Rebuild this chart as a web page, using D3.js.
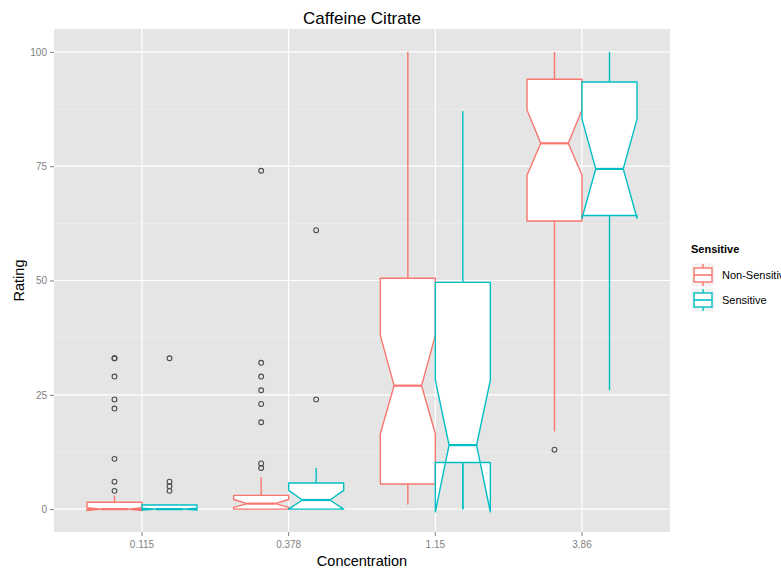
<!DOCTYPE html>
<html>
<head>
<meta charset="utf-8">
<script src="https://cdnjs.cloudflare.com/ajax/libs/d3/7.8.5/d3.min.js"></script>
<style>
  body { margin: 0; background: #fff; }
  text { font-family: "Liberation Sans", Arial, sans-serif; }
</style>
</head>
<body>
<div id="chart"></div>
<script>
// categories and groups
var concentrations = ['0.115', '0.378', '1.15', '3.86'];
var groups = ['Non-Sensitive', 'Sensitive'];
var yTicks = [0, 25, 50, 75, 100];
var yMinor = [12.5, 37.5, 62.5, 87.5];

// Non-Sensitive box stats
var nsLower = [0, 0, 1, 17];
var nsQ1 = [0, 0, 5.5, 63];
var nsMedian = [0, 1.2, 27, 80];
var nsQ3 = [1.5, 3, 50.5, 94];
var nsUpper = [3, 7, 100, 100];
var nsNotchLo = [-0.3, 0.4, 16.5, 73];
var nsNotchHi = [0.3, 2.1, 38, 87.3];
var nsOutliers = [[33, 33, 29, 24, 22, 11, 6, 4], [74, 32, 29, 26, 23, 19, 10, 9], [], [13]];

// Sensitive box stats
var sLower = [0, 0, 0, 26];
var sQ1 = [0, 0, 10.2, 64.2];
var sMedian = [0, 2, 14, 74.4];
var sQ3 = [0.9, 5.7, 49.6, 93.4];
var sUpper = [0.9, 9, 87, 100];
var sNotchLo = [-0.2, 0, -0.6, 63.6];
var sNotchHi = [0.2, 4.1, 28.2, 85.3];
var sOutliers = [[33, 6, 5, 4], [61, 24], [], []];

var colors = ['#F8766D', '#00BFC4'];

var width = 781, height = 569;
var margin = { left: 54, right: 111, top: 29, bottom: 37 };

var svg = d3.select('#chart')
  .append('svg')
  .attr('width', width)
  .attr('height', height);

var x = d3.scaleBand()
  .domain(concentrations)
  .range([margin.left, width - margin.right])
  .paddingInner(0)
  .paddingOuter(0.1);

var xSub = d3.scaleBand()
  .domain(groups)
  .range([0, x.bandwidth() * 0.75]);

var y = d3.scaleLinear()
  .domain([-5, 105])
  .range([height - margin.bottom, margin.top]);

// build table of boxes
var boxes = [];
concentrations.forEach(function (c, i) {
  boxes.push({ c: c, g: groups[0], lower: nsLower[i], q1: nsQ1[i], med: nsMedian[i], q3: nsQ3[i],
    upper: nsUpper[i], nlo: nsNotchLo[i], nhi: nsNotchHi[i], out: nsOutliers[i], color: colors[0] });
  boxes.push({ c: c, g: groups[1], lower: sLower[i], q1: sQ1[i], med: sMedian[i], q3: sQ3[i],
    upper: sUpper[i], nlo: sNotchLo[i], nhi: sNotchHi[i], out: sOutliers[i], color: colors[1] });
});

// panel background
svg.append('rect')
  .attr('x', margin.left)
  .attr('y', margin.top)
  .attr('width', width - margin.right - margin.left)
  .attr('height', height - margin.bottom - margin.top)
  .attr('fill', '#E5E5E5');

// grid
svg.selectAll('line.minor')
  .data(yMinor)
  .enter().append('line')
  .attr('x1', margin.left).attr('x2', width - margin.right)
  .attr('y1', function (d) { return y(d); })
  .attr('y2', function (d) { return y(d); })
  .attr('stroke', '#F2F2F2')
  .attr('stroke-width', 0.6);

svg.selectAll('line.majory')
  .data(yTicks)
  .enter().append('line')
  .attr('x1', margin.left).attr('x2', width - margin.right)
  .attr('y1', function (d) { return y(d); })
  .attr('y2', function (d) { return y(d); })
  .attr('stroke', '#fff')
  .attr('stroke-width', 1.2);

svg.selectAll('line.majorx')
  .data(concentrations)
  .enter().append('line')
  .attr('y1', margin.top).attr('y2', height - margin.bottom)
  .attr('x1', function (d) { return x(d) + x.bandwidth() / 2; })
  .attr('x2', function (d) { return x(d) + x.bandwidth() / 2; })
  .attr('stroke', '#fff')
  .attr('stroke-width', 1.2);

// boxes
var boxG = svg.selectAll('g.box')
  .data(boxes)
  .enter().append('g')
  .attr('class', 'box');

function bx(d) { return x(d.c) + x.bandwidth() * 0.125 + xSub(d.g); }

boxG.append('line')
  .attr('x1', function (d) { return bx(d) + xSub.bandwidth() / 2; })
  .attr('x2', function (d) { return bx(d) + xSub.bandwidth() / 2; })
  .attr('y1', function (d) { return y(d.q3); })
  .attr('y2', function (d) { return y(d.upper); })
  .attr('stroke', function (d) { return d.color; })
  .attr('stroke-width', 1.4);

boxG.append('line')
  .attr('x1', function (d) { return bx(d) + xSub.bandwidth() / 2; })
  .attr('x2', function (d) { return bx(d) + xSub.bandwidth() / 2; })
  .attr('y1', function (d) { return y(d.q1); })
  .attr('y2', function (d) { return y(d.lower); })
  .attr('stroke', function (d) { return d.color; })
  .attr('stroke-width', 1.4);

boxG.append('path')
  .attr('d', function (d) {
    var x0 = bx(d), w = xSub.bandwidth(), x1 = x0 + w, nw = w / 4;
    var pts = [
      [x0, y(d.q3)], [x0, y(d.nhi)], [x0 + nw, y(d.med)], [x0, y(d.nlo)], [x0, y(d.q1)],
      [x1, y(d.q1)], [x1, y(d.nlo)], [x1 - nw, y(d.med)], [x1, y(d.nhi)], [x1, y(d.q3)]
    ];
    return d3.line()(pts) + 'Z';
  })
  .attr('fill', '#fff')
  .attr('stroke', function (d) { return d.color; })
  .attr('stroke-width', 1.4)
  .attr('stroke-linejoin', 'round');

// whisker center line over the folded notch region
boxG.filter(function (d) { return d.nlo < d.q1 - 1; })
  .append('line')
  .attr('x1', function (d) { return bx(d) + xSub.bandwidth() / 2; })
  .attr('x2', function (d) { return bx(d) + xSub.bandwidth() / 2; })
  .attr('y1', function (d) { return y(d.q1); })
  .attr('y2', function (d) { return y(d.lower); })
  .attr('stroke', function (d) { return d.color; })
  .attr('stroke-width', 1.4);

boxG.append('line')
  .attr('x1', function (d) { return bx(d) + xSub.bandwidth() / 4; })
  .attr('x2', function (d) { return bx(d) + xSub.bandwidth() * 3 / 4; })
  .attr('y1', function (d) { return y(d.med); })
  .attr('y2', function (d) { return y(d.med); })
  .attr('stroke', function (d) { return d.color; })
  .attr('stroke-width', 2.2);

// outliers
boxG.each(function (d) {
  d3.select(this).selectAll('circle')
    .data(d.out)
    .enter().append('circle')
    .attr('cx', bx(d) + xSub.bandwidth() / 2)
    .attr('cy', function (v) { return y(v); })
    .attr('r', 2.4)
    .attr('fill', 'none')
    .attr('stroke', '#4d4d4d')
    .attr('stroke-width', 1.1);
});

// axes
var yAxis = svg.append('g')
  .attr('transform', 'translate(' + margin.left + ',0)')
  .call(d3.axisLeft(y).tickValues(yTicks).tickSize(4).tickPadding(3));
var xAxis = svg.append('g')
  .attr('transform', 'translate(0,' + (height - margin.bottom) + ')')
  .call(d3.axisBottom(x).tickSize(4).tickPadding(5));

[yAxis, xAxis].forEach(function (a) {
  a.select('.domain').remove();
  a.selectAll('.tick line').attr('stroke', '#7F7F7F');
  a.selectAll('.tick text')
    .attr('fill', '#7F7F7F')
    .style('font-size', '10px')
    .style('font-family', '"Liberation Sans", Arial, sans-serif');
});

// titles
svg.append('text')
  .attr('x', (margin.left + width - margin.right) / 2)
  .attr('y', 24)
  .attr('text-anchor', 'middle')
  .style('font-size', '17px')
  .text('Caffeine Citrate');

svg.append('text')
  .attr('x', (margin.left + width - margin.right) / 2)
  .attr('y', 566)
  .attr('text-anchor', 'middle')
  .style('font-size', '14.5px')
  .text('Concentration');

svg.append('text')
  .attr('transform', 'translate(24,' + y(50) + ') rotate(-90)')
  .attr('text-anchor', 'middle')
  .style('font-size', '14.5px')
  .text('Rating');

// legend
var legend = svg.append('g').attr('transform', 'translate(691,0)');
legend.append('text')
  .attr('x', 0).attr('y', 253)
  .style('font-size', '11px')
  .style('font-weight', 'bold')
  .text('Sensitive');

var key = legend.selectAll('g.key')
  .data(groups)
  .enter().append('g')
  .attr('class', 'key')
  .attr('transform', function (d, i) { return 'translate(0,' + (263 + i * 25) + ')'; });

key.append('rect')
  .attr('width', 24).attr('height', 24)
  .attr('fill', '#F2F2F2')
  .attr('stroke', '#fff');
key.append('line')
  .attr('x1', 12).attr('x2', 12).attr('y1', 1).attr('y2', 23)
  .attr('stroke', function (d, i) { return colors[i]; })
  .attr('stroke-width', 1.4);
key.append('rect')
  .attr('x', 3).attr('y', 5).attr('width', 18).attr('height', 14)
  .attr('fill', '#fff')
  .attr('stroke', function (d, i) { return colors[i]; })
  .attr('stroke-width', 1.4);
key.append('line')
  .attr('x1', 3).attr('x2', 21).attr('y1', 12).attr('y2', 12)
  .attr('stroke', function (d, i) { return colors[i]; })
  .attr('stroke-width', 1.6);
key.append('text')
  .attr('x', 31).attr('y', 16)
  .style('font-size', '11px')
  .text(function (d) { return d; });
</script>
</body>
</html>
